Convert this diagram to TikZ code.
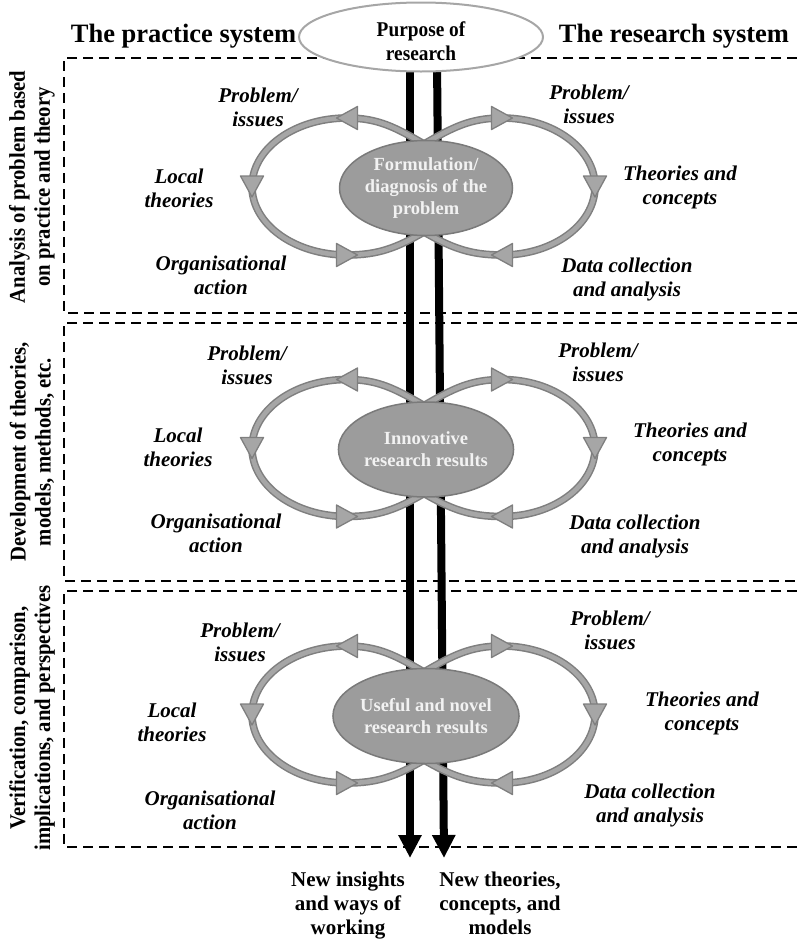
\documentclass[tikz,border=0pt]{standalone}
\usepackage{fontspec}
\setmainfont{Liberation Serif}
\newfontfamily\narrowserif{Liberation Serif}[FakeStretch=0.92]
\usetikzlibrary{arrows.meta,shapes.geometric}

\definecolor{bandedge}{HTML}{7F7F7F}
\definecolor{bandfill}{HTML}{A6A6A6}
\definecolor{hubfill}{HTML}{9C9C9C}
\definecolor{hubedge}{HTML}{7A7A7A}
\definecolor{purposeedge}{HTML}{A6A6A6}

\tikzset{
  boxline/.style={black, line width=2pt, dash pattern=on 10pt off 6pt},
  band/.style={draw=bandedge, double=bandfill, line width=1.5pt, double distance=4.6pt, line join=round},
  hub/.style={ellipse, fill=hubfill, draw=hubedge, line width=1.5pt,
    minimum width=173pt, minimum height=95pt, inner sep=0pt, text=white!95!black,
    font=\bfseries\fontsize{18.5}{22}\selectfont, align=center},
  itlabel/.style={font=\bfseries\itshape\fontsize{21}{24}\selectfont, align=center, inner sep=0pt},
  header/.style={font=\bfseries\fontsize{26.5}{30}\selectfont, inner sep=0pt, anchor=base},
  stagelabel/.style={rotate=90, font=\narrowserif\bfseries\fontsize{22.5}{25}\selectfont, align=center, inner sep=0pt},
  outcome/.style={font=\bfseries\fontsize{21}{24}\selectfont, align=center, inner sep=0pt, anchor=north},
  flow/.style={black, line width=8pt, -{Triangle[length=23pt,width=22pt]}},
  pics/looptip/.style={code={
    \filldraw[fill=bandfill, draw=bandedge, line width=1.3pt, line join=round]
      (10.5pt,0) -- (-10.5pt,11.5pt) -- (-10.5pt,-11.5pt) -- cycle;}}
}

% One figure-of-eight cycle around a central result ellipse.
% #1 = vertical position of the ellipse centre, #2 = node name, #3 = text
\newcommand\cyclepair[3]{%
  \begin{scope}[yshift=-#1pt]
    \draw[band] (424,44) to[out=150,in=0] (347,70)
      .. controls (294.5,70) and (252,39.3) .. (252,1.5)
      .. controls (252,-36.3) and (294.5,-67) .. (347,-67)
      to[out=0,in=-150] (424,-44) to[out=30,in=-30] (424,44) -- cycle;
    \draw[band] (424,44) to[out=30,in=180] (502,70)
      .. controls (553.4,70) and (595,39.3) .. (595,1.5)
      .. controls (595,-36.3) and (553.4,-67) .. (502,-67)
      to[out=180,in=-30] (424,-44) to[out=150,in=-150] (424,44) -- cycle;
    \pic[rotate=180] at (347,70) {looptip};
    \pic[rotate=-90] at (252,1.5) {looptip};
    \pic at (347,-67) {looptip};
    \pic at (502,70) {looptip};
    \pic[rotate=-90] at (595,1.5) {looptip};
    \pic[rotate=180] at (502,-67) {looptip};
    \node[hub] (#2) at (426,0) {#3};
  \end{scope}}

\begin{document}
\begin{tikzpicture}[x=1pt,y=1pt]
  \useasboundingbox (0,0) rectangle (797,-945);

  % stage frames
  \draw[boxline] (797,-58) -- (64,-58) -- (64,-313) -- (797,-313);
  \draw[boxline] (797,-323) -- (64,-323) -- (64,-581) -- (797,-581);
  \draw[boxline] (797,-591) -- (64,-591) -- (64,-847) -- (797,-847);

  % the two output flows
  \coordinate (practiceStart) at (410,-60);
  \coordinate (practiceEnd) at (410,-858);
  \coordinate (researchStart) at (437,-60);
  \coordinate (researchEnd) at (444,-858);
  \draw[flow] (practiceStart) -- (practiceEnd);
  \draw[flow] (researchStart) -- (researchEnd);

  % headings
  \node[header] (practice) at (183.5,-42) {The practice system};
  \node[header] (research) at (674,-42) {The research system};
  \node[ellipse, draw=purposeedge, fill=white, line width=2pt,
        minimum width=244pt, minimum height=69pt, inner sep=0pt] (purpose) at (421,-37) {};
  \node[align=center, inner sep=0pt,
        font=\narrowserif\bfseries\fontsize{21}{24}\selectfont] (purposeText)
        at ([yshift=-4pt]purpose.center) {Purpose of\\research};

  % cycles
  \cyclepair{188}{hubA}{Formulation/\\diagnosis of the\\problem}
  \cyclepair{449.5}{hubB}{Innovative\\research results}
  \cyclepair{716}{hubC}{Useful and novel\\research results}

  % cycle labels, stage 1
  \node[itlabel] (a1) at (258,-107) {Problem/\\issues};
  \node[itlabel] (a2) at (179,-188) {Local\\theories};
  \node[itlabel] (a3) at (221,-275) {Organisational\\action};
  \node[itlabel] (a4) at (589,-104) {Problem/\\issues};
  \node[itlabel] (a5) at (680,-187) {Theories and\\concepts};
  \node[itlabel] (a6) at (627,-279) {Data collection\\and analysis};

  % cycle labels, stage 2
  \node[itlabel] (b1) at (247,-365) {Problem/\\issues};
  \node[itlabel] (b2) at (178,-447) {Local\\theories};
  \node[itlabel] (b3) at (216,-533) {Organisational\\action};
  \node[itlabel] (b4) at (598,-362) {Problem/\\issues};
  \node[itlabel] (b5) at (690,-444) {Theories and\\concepts};
  \node[itlabel] (b6) at (635,-536) {Data collection\\and analysis};

  % cycle labels, stage 3
  \node[itlabel] (c1) at (240,-642) {Problem/\\issues};
  \node[itlabel] (c2) at (172,-722) {Local\\theories};
  \node[itlabel] (c3) at (210,-810) {Organisational\\action};
  \node[itlabel] (c4) at (610,-630) {Problem/\\issues};
  \node[itlabel] (c5) at (702,-713) {Theories and\\concepts};
  \node[itlabel] (c6) at (650,-805) {Data collection\\and analysis};

  % stage names
  \node[stagelabel] (stage1) at (32,-187) {Analysis of problem based\\on practice and theory};
  \node[stagelabel] (stage2) at (32,-452) {Development of theories,\\models, methods, etc.};
  \node[stagelabel] (stage3) at (32,-718) {Verification, comparison,\\implications, and perspectives};

  % outcomes
  \node[outcome] (outPractice) at (348,-872) {New insights\\and ways of\\working};
  \node[outcome] (outResearch) at (500,-872) {New theories,\\concepts, and\\models};
\end{tikzpicture}
\end{document}
